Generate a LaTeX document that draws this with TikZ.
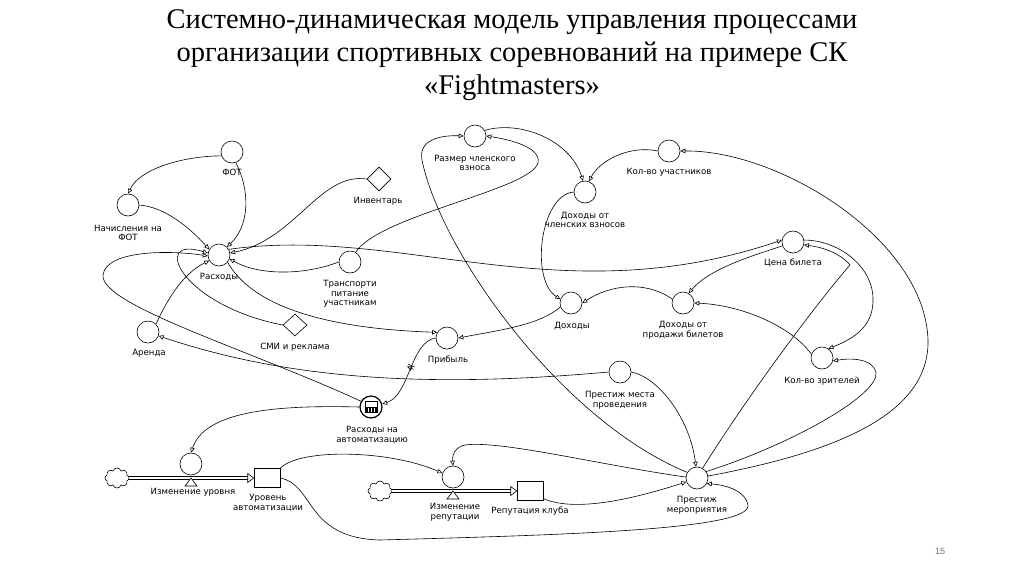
\documentclass[tikz,border=0pt]{standalone}
\usepackage{fontspec}
\setmainfont{Liberation Serif}
\newfontfamily\lblfont{DejaVu Sans}
\newfontfamily\numfont{Liberation Sans}
\usetikzlibrary{arrows.meta,shapes.geometric,shapes.symbols,decorations.markings}
\begin{document}
\begin{tikzpicture}[x=1pt,y=-1pt,
  aux/.style={circle,draw,minimum size=22pt,inner sep=0pt,line width=0.6pt},
  konst/.style={diamond,draw,minimum width=24pt,minimum height=24pt,inner sep=0pt,line width=0.6pt},
  stock/.style={rectangle,draw,minimum width=26pt,minimum height=19pt,inner sep=0pt,line width=0.6pt},
  src/.style={cloud,cloud puffs=8,draw,minimum width=24pt,minimum height=20pt,inner sep=0pt,line width=0.6pt},
  lbl/.style={font=\lblfont\fontsize{8.6}{9.6}\selectfont,align=center,inner sep=0pt},
  link/.style={line width=0.6pt,-{Triangle[open,length=5pt,width=4.5pt]}},
  pipe/.style={double,double distance=2.2pt,line width=0.6pt},
  delay/.style={postaction={decorate},decoration={markings,mark=at position 0.45 with {\draw[line width=0.6pt] (-1.3,-3.5)--(-1.3,3.5) (1.3,-3.5)--(1.3,3.5);}}}
]
\useasboundingbox (0,0) rectangle (1024,574);
\fill[white] (0,0) rectangle (1024,574);

% title
\node[align=center,font=\fontsize{28.5}{33}\selectfont] (title) at (512,55)
  {Системно-динамическая модель управления процессами\\организации спортивных соревнований на примере СК\\«Fightmasters»};
\node[font=\numfont\fontsize{9}{10}\selectfont,text=black!55] (pgnum) at (940,551) {15};

% variables
\node[aux] (fot) at (232,152) {};
\node[aux] (nach) at (128,205) {};
\node[konst] (inv) at (379,179) {};
\node[aux] (rash) at (219,255) {};
\node[aux] (trans) at (350,262) {};
\node[aux] (arenda) at (148,332) {};
\node[konst,minimum height=22pt] (smi) at (295,325) {};
\node[aux] (prib) at (447,338) {};
\node[aux,line width=1.2pt] (avt) at (371,407) {};
\node[aux] (izmur) at (191,464) {};
\node[src] (cl1) at (117,478) {};
\node[stock] (urov) at (267,478) {};
\node[aux] (izmrep) at (453,477) {};
\node[src] (cl2) at (380,491) {};
\node[stock] (rep) at (530,491) {};
\node[aux] (pm) at (697,478) {};
\node[aux] (pmp) at (620,372) {};
\node[aux] (doh) at (571,303) {};
\node[aux] (dpb) at (683,303) {};
\node[aux] (razmer) at (475,136) {};
\node[aux] (dchv) at (585,192) {};
\node[aux] (kuch) at (669,151) {};
\node[aux] (cena) at (793,242) {};
\node[aux] (kz) at (822,358) {};

% icon inside Расходы на автоматизацию
\draw[line width=0.6pt] (365,401) rectangle (377,412);
\fill (365,406.5) rectangle (377,412);
\draw[white,line width=0.6pt] (368,408)--(368,412) (371,408)--(371,412) (374,408)--(374,412);

% labels
\node[lbl] (lfot) at (232,172) {ФОТ};
\node[lbl] (lnach) at (128,233) {Начисления на\\ФОТ};
\node[lbl] (linv) at (378,201) {Инвентарь};
\node[lbl] (lrash) at (219,277) {Расходы};
\node[lbl] (ltrans) at (350,294) {Транспорти\\питание\\участникам};
\node[lbl] (larenda) at (149,353) {Аренда};
\node[lbl] (lsmi) at (295,347) {СМИ и реклама};
\node[lbl] (lprib) at (448,360) {Прибыль};
\node[lbl] (lavt) at (372,435) {Расходы на\\автоматизацию};
\node[lbl] (lizmur) at (193,492) {Изменение уровня};
\node[lbl] (lurov) at (268,503) {Уровень\\автоматизации};
\node[lbl] (lizmrep) at (455,512) {Изменение\\репутации};
\node[lbl] (lrep) at (530,511) {Репутация клуба};
\node[lbl] (lpm) at (697,505) {Престиж\\мероприятия};
\node[lbl] (lpmp) at (620,400) {Престиж места\\проведения};
\node[lbl] (ldoh) at (572,326) {Доходы};
\node[lbl] (ldpb) at (683,330) {Доходы от\\продажи билетов};
\node[lbl] (lrazmer) at (475,163) {Размер членского\\взноса};
\node[lbl] (ldchv) at (585,220) {Доходы от\\членских взносов};
\node[lbl] (lkuch) at (669,172) {Кол-во участников};
\node[lbl] (lcena) at (793,263) {Цена билета};
\node[lbl] (lkz) at (822,381) {Кол-во зрителей};

% flows
\draw[pipe] (cl1.east) -- ([xshift=-6pt]urov.west);
\draw[fill=white,line width=0.6pt] (urov.west) -- ++(-6,-4.5) -- ++(0,9) -- cycle;
\draw[fill=white,line width=0.6pt] (191,478) -- (185,486) -- (197,486) -- cycle;
\draw[pipe] (cl2.east) -- ([xshift=-6pt]rep.west);
\draw[fill=white,line width=0.6pt] (rep.west) -- ++(-6,-4.5) -- ++(0,9) -- cycle;
\draw[fill=white,line width=0.6pt] (453,491) -- (447,499) -- (459,499) -- cycle;

% links
\draw[link] (fot.200) .. controls (185,156) and (140,168) .. (nach.north);
\draw[link] (fot.-70) .. controls (250,190) and (250,225) .. (rash.45);
\draw[link] (nach.east) .. controls (165,207) and (190,228) .. (rash.150);
\draw[link] (inv.west) .. controls (320,172) and (295,240) .. (rash.10);
\draw[link] (trans.west) .. controls (305,275) and (260,276) .. (rash.-20);
\draw[link] (smi.west) .. controls (180,305) and (150,235) .. (rash.170);
\draw[link] (arenda.45) .. controls (165,305) and (180,275) .. (rash.210);
\draw[link] (avt.150) .. controls (250,350) and (100,305) .. (103,275) .. controls (106,250) and (170,250) .. (rash.185);
\draw[link] (rash.30) .. controls (400,225) and (560,315) .. (cena.170);
\draw[link] (rash.-40) .. controls (260,320) and (370,330) .. (prib.150);
\draw[link] (doh.200) .. controls (540,325) and (500,330) .. (prib.east);
\draw[link,delay] (prib.west) .. controls (410,342) and (410,395) .. (avt.15);
\draw[link] (avt.west) .. controls (280,405) and (205,410) .. (izmur.north);
\draw[link] (pm.150) .. controls (560,420) and (440,250) .. (422,160) .. controls (418,140) and (440,135) .. (razmer.west);
\draw[link] (trans.60) .. controls (380,215) and (530,190) .. (538,163) .. controls (542,145) and (500,138) .. (razmer.east);
\draw[link] (razmer.30) .. controls (520,120) and (570,140) .. (dchv.100);
\draw[link] (kuch.west) .. controls (630,145) and (600,160) .. (dchv.70);
\draw[link] (pm.10) .. controls (820,455) and (930,420) .. (928,340) .. controls (925,240) and (780,150) .. (kuch.east);
\draw[link] (pm.60) .. controls (745,400) and (815,305) .. (850,265) .. controls (840,253) and (822,247) .. (cena.-15);
\draw[link] (cena.10) .. controls (840,240) and (880,270) .. (872,310) .. controls (868,330) and (850,340) .. (kz.55);
\draw[link] (cena.200) .. controls (755,255) and (710,268) .. (dpb.60);
\draw[link] (kz.160) .. controls (790,325) and (740,305) .. (dpb.east);
\draw[link] (pm.35) .. controls (790,445) and (880,395) .. (876,372) .. controls (872,358) and (850,358) .. (kz.-15);
\draw[link] (dchv.west) .. controls (540,195) and (530,280) .. (doh.160);
\draw[link] (dpb.160) .. controls (645,280) and (610,285) .. (doh.east);
\draw[link] (pmp.east) .. controls (660,378) and (690,420) .. (pm.95);
\draw[link] (pmp.west) .. controls (430,388) and (290,380) .. (arenda.-20);
\draw[link] (urov.north east) .. controls (300,448) and (390,450) .. (izmrep.160);
\draw[link] (urov.east) .. controls (315,485) and (305,538) .. (380,540) .. controls (560,535) and (752,530) .. (748,505) .. controls (746,492) and (728,485) .. (pm.-30);
\draw[link] (pm.175) .. controls (600,465) and (500,440) .. (465,445) .. controls (455,447) and (452,455) .. (izmrep.north);
\draw[link] (rep.-30) .. controls (575,512) and (630,500) .. (pm.200);
\end{tikzpicture}
\end{document}
